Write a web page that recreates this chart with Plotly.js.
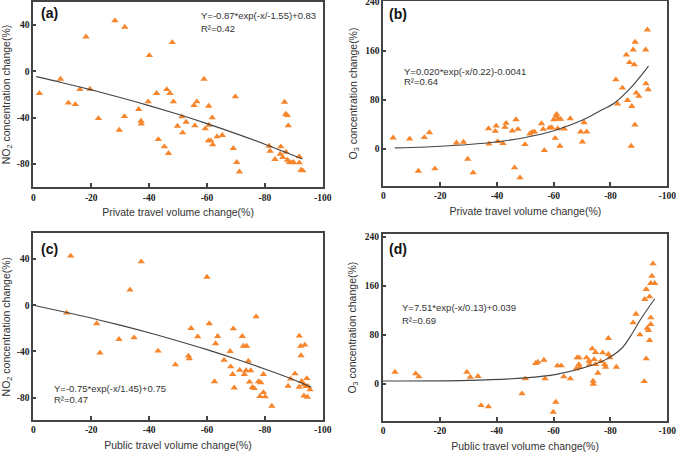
<!DOCTYPE html>
<html>
<head>
<meta charset="utf-8">
<script src="https://cdn.plot.ly/plotly-3.0.1.min.js"></script>
<style>
html,body{margin:0;padding:0;background:#fff;}
#chart{width:676px;height:452px;}
</style>
</head>
<body>
<div id="chart"></div>
<script>
// ---------- Panel (a): private travel vs NO2 ----------
const aX = [-2.1,-9.4,-12.1,-14.5,-16.1,-18.2,-19.6,-22.5,-28.2,-29.7,-31.6,-31.5,-36.4,-37.2,-37.3,-39.7,-40.1,-42.6,-43.2,-45.3,-46.1,-46.7,-47.2,-48.0,-48.4,-49.8,-51.3,-51.6,-52.8,-55.5,-55.8,-56.5,-59.0,-59.4,-60.6,-60.7,-60.5,-61.3,-61.8,-62.0,-63.5,-65.3,-69.1,-69.8,-70.3,-71.2,-81.5,-81.8,-83.5,-85.3,-85.5,-86.2,-86.8,-87.2,-87.8,-88.1,-87.3,-87.8,-88.5,-89.3,-89.9,-91.9,-91.9,-92.5,-93.1];
const aY = [-19.0,-6.7,-27.1,-28.5,-15.6,29.8,-15.3,-40.6,43.6,-50.6,38.2,-38.9,-32.8,-42.9,-45.2,-26.2,13.7,-19.0,-58.7,-65.0,-15.6,-70.7,-19.0,24.9,-26.2,-47.2,-39.1,-52.9,-43.7,-29.4,-46.9,-26.2,-6.7,-49.5,-29.9,-46.3,-59.8,-59.8,-40.0,-63.3,-56.4,-55.2,-66.4,-21.9,-78.5,-86.6,-64.4,-68.7,-75.9,-71.3,-65.0,-74.2,-26.5,-36.8,-38.0,-46.9,-69.6,-76.5,-78.5,-78.8,-78.5,-73.6,-78.8,-85.1,-85.7];
const aFitX = [-1,-10,-20,-30,-40,-50,-60,-70,-80,-93];
const aFitY = [-4.6,-9.8,-16.0,-22.6,-29.6,-37.1,-45.1,-53.7,-62.8,-75.5];

// ---------- Panel (b): private travel vs O3 ----------
const bX = [-3.4,-9.2,-12.3,-14.4,-16.2,-18.1,-25.7,-28.2,-29.7,-31.6,-37.0,-37.2,-39.7,-39.4,-40.3,-42.1,-42.8,-43.2,-45.4,-46.2,-46.7,-47.4,-48.1,-49.9,-51.6,-52.3,-53.2,-55.7,-56.3,-56.7,-58.5,-59.3,-60.0,-60.5,-60.9,-61.0,-61.6,-62.2,-62.4,-61.4,-63.7,-65.8,-69.5,-70.1,-70.7,-71.6,-81.9,-82.5,-84.2,-85.6,-86.0,-86.7,-87.5,-87.3,-88.0,-88.4,-88.6,-88.7,-89.1,-90.0,-92.4,-92.5,-93.0,-93.3];
const bY = [18.4,16.8,-35.7,19.0,27.0,-31.9,10.3,11.4,-16.2,-38.4,33.5,8.6,37.8,29.2,12.4,9.2,35.7,42.2,29.7,-30.3,48.1,32.4,-46.5,7.6,24.9,27.6,28.1,41.6,32.4,-2.2,34.6,35.1,48.1,17.8,53.5,56.8,49.2,4.9,48.6,33.5,33.0,49.7,28.1,11.9,43.2,28.1,113.0,73.5,99.5,153.5,79.5,141.1,69.7,4.9,161.6,137.3,39.5,174.1,91.4,86.1,161.6,106.5,194.1,96.8];
const bFitX = [-4,-10,-20,-30,-40,-50,-60,-70,-75.6,-81.4,-87.2,-93.4];
const bFitY = [2.0,2.7,4.6,7.4,11.9,19.0,30.0,47.0,60.5,75.0,100.0,135.0];

// ---------- Panel (c): public travel vs NO2 ----------
const cX = [-11.5,-12.9,-21.9,-23.0,-29.6,-33.4,-34.8,-37.3,-43.1,-49.1,-53.6,-53.9,-54.5,-56.8,-60.0,-60.8,-62.6,-63.0,-63.7,-65.9,-68.0,-68.2,-68.9,-69.1,-69.4,-71.3,-72.2,-72.6,-72.9,-73.5,-73.7,-74.3,-74.7,-75.1,-75.7,-76.3,-77.0,-77.8,-78.3,-78.6,-79.5,-79.5,-80.1,-82.4,-88.0,-88.9,-90.4,-91.9,-92.4,-92.5,-93.8,-92.7,-93.5,-94.5,-94.2,-94.9,-93.5,-94.7,-95.6,-91.9];
const cY = [-6.7,42.6,-15.9,-41.3,-29.5,13.2,-28.1,37.7,-39.6,-51.4,-43.9,-46.2,-20.0,-27.2,24.4,-15.9,-66.1,-33.2,-26.9,-47.4,-39.9,-53.2,-59.8,-20.3,-71.5,-56.2,-26.9,-35.3,-59.8,-56.5,-35.3,-48.3,-66.4,-56.5,-71.0,-71.9,-9.9,-66.1,-78.8,-67.0,-59.8,-75.5,-79.1,-87.2,-69.9,-63.8,-59.2,-26.6,-35.3,-43.6,-34.4,-65.8,-68.4,-63.3,-70.2,-70.2,-78.4,-79.5,-73.1,-70.8];
const cFitX = [0,-10,-20,-30,-40,-50,-60,-70,-80,-90,-96];
const cFitY = [0,-5.4,-11.1,-17.2,-23.8,-30.9,-38.4,-46.5,-55.2,-64.5,-71.0];

// ---------- Panel (d): public travel vs O3 ----------
const dX = [-4.2,-11.5,-12.6,-29.5,-30.7,-33.4,-34.5,-37.1,-48.9,-50.1,-53.7,-54.5,-56.6,-57.0,-59.9,-60.8,-61.4,-62.7,-63.6,-65.9,-68.0,-68.3,-69.0,-68.9,-69.2,-71.6,-72.5,-72.7,-73.6,-73.9,-74.0,-74.3,-74.8,-74.8,-75.6,-76.6,-77.3,-78.0,-78.3,-79.3,-79.3,-79.8,-82.1,-88.0,-89.0,-90.4,-92.1,-92.6,-92.6,-91.9,-93.0,-93.4,-93.8,-93.8,-94.2,-94.2,-94.6,-94.2,-95.6,-95.0];
const dY = [19.1,16.4,11.5,19.1,10.9,12.0,-35.5,-37.6,-16.4,8.2,33.3,35.5,38.7,8.2,-46.4,-30.0,29.5,29.5,11.5,8.2,24.5,42.5,42.5,31.6,26.7,42.5,37.1,31.6,57.3,4.4,-0.5,39.8,51.3,31.6,17.5,36.5,50.7,31.6,27.3,48.0,74.2,42.5,27.3,99.8,114.0,80.2,138.0,154.4,40.9,3.8,91.1,87.3,70.9,142.4,108.0,97.1,176.2,164.2,164.2,196.4];
const dFitX = [0,-30,-50,-61,-72.7,-78.5,-84,-88,-90.6,-95.6];
const dFitY = [4.4,5.5,9.5,15.3,28.9,39.8,58.0,84.5,105.0,139.0];

// ---------- Texts / ticks ----------
const xTickVals = [0,-20,-40,-60,-80,-100];
const xTickText = ["0","-20","-40","-60","-80","-100"];
const no2TickVals = [40,0,-40,-80];
const no2TickText = ["40","0","-40","-80"];
const o3TickVals = [240,160,80,0];
const o3TickText = ["240","160","80","0"];
const privTitle = "Private travel volume change(%)";
const pubTitle = "Public travel volume change(%)";
const no2Title = "NO<sub>2</sub> concentration change(%)";
const o3Title = "O<sub>3</sub> concentration change(%)";

const orange = "#F7852B";
const frameColor = "#444";
const mk = {symbol: "triangle-up", size: 6.5, color: orange};
const ln = {color: "#444444", width: 1.1, shape: "spline"};

function sc(x, y, xa, ya) { return {x: x, y: y, xaxis: xa, yaxis: ya, type: "scatter", mode: "markers", marker: mk, hoverinfo: "skip", showlegend: false}; }
function fl(x, y, xa, ya) { return {x: x, y: y, xaxis: xa, yaxis: ya, type: "scatter", mode: "lines", line: ln, hoverinfo: "skip", showlegend: false}; }

const data = [
  sc(aX, aY, "x", "y"), fl(aFitX, aFitY, "x", "y"),
  sc(bX, bY, "x2", "y2"), fl(bFitX, bFitY, "x2", "y2"),
  sc(cX, cY, "x3", "y3"), fl(cFitX, cFitY, "x3", "y3"),
  sc(dX, dY, "x4", "y4"), fl(dFitX, dFitY, "x4", "y4")
];

const tickFont = {family: "Liberation Serif", size: 9.5, color: "#222222", weight: "bold"};
const titleFont = {family: "Liberation Sans", size: 10.5, color: "#333333"};

function xAxis(domain, anchor, title) {
  return {domain: domain, anchor: anchor, range: [0, -100], tickvals: xTickVals, ticktext: xTickText,
    ticks: "inside", ticklen: 4, tickwidth: 2, tickcolor: frameColor, showline: true, mirror: true, linecolor: frameColor, linewidth: 2,
    showgrid: false, zeroline: false, tickfont: tickFont, ticklabeloverflow: "allow",
    title: {text: title, font: titleFont, standoff: 7}};
}
function yAxis(domain, anchor, range, tv, tt, title) {
  return {domain: domain, anchor: anchor, range: range, tickvals: tv, ticktext: tt,
    ticks: "inside", ticklen: 3, tickwidth: 2, tickcolor: frameColor, showline: true, mirror: true, linecolor: frameColor, linewidth: 2,
    showgrid: false, zeroline: false, tickfont: tickFont, ticklabeloverflow: "allow",
    title: {text: title, font: titleFont, standoff: 6}};
}

const lblFont = {family: "Liberation Sans", size: 14, color: "#111111", weight: "bold"};
const eqFont = {family: "Liberation Sans", size: 9.5, color: "#333333"};
function ann(xr, yr, x, y, text, font) {
  return {xref: xr, yref: yr, x: x, y: y, text: text, font: font, showarrow: false, xanchor: "left", yanchor: "middle"};
}

const layout = {
  width: 676, height: 452, margin: {l: 0, r: 0, t: 0, b: 0},
  paper_bgcolor: "#ffffff", plot_bgcolor: "#ffffff", showlegend: false,
  xaxis: xAxis([0.0493, 0.4774], "y", privTitle),
  yaxis: yAxis([0.5856, 0.9962], "x", [-100, 60], no2TickVals, no2TickText, no2Title),
  xaxis2: xAxis([0.5673, 0.987], "y2", privTitle),
  yaxis2: yAxis([0.5885, 0.9978], "x2", [-60, 241], o3TickVals, o3TickText, o3Title),
  xaxis3: xAxis([0.0493, 0.4774], "y3", pubTitle),
  yaxis3: yAxis([0.0708, 0.4838], "x3", [-99.3, 62.2], no2TickVals, no2TickText, no2Title),
  xaxis4: xAxis([0.5666, 0.987], "y4", pubTitle),
  yaxis4: yAxis([0.0686, 0.4816], "x4", [-61, 244.4], o3TickVals, o3TickText, o3Title),
  annotations: [
    ann("x", "y", -2.0, 50.3, "(a)", lblFont),
    ann("x", "y", -57.3, 47.7, "Y=-0.87*exp(-x/-1.55)+0.83", eqFont),
    ann("x", "y", -57.3, 37.0, "R²=0.42", eqFont),
    ann("x2", "y2", -1.1, 220.6, "(b)", lblFont),
    ann("x2", "y2", -6.4, 127.0, "Y=0.020*exp(-x/0.22)-0.0041", eqFont),
    ann("x2", "y2", -6.4, 109.5, "R²=0.64", eqFont),
    ann("x3", "y3", -2.0, 48.7, "(c)", lblFont),
    ann("x3", "y3", -6.4, -71.8, "Y=-0.75*exp(-x/1.45)+0.75", eqFont),
    ann("x3", "y3", -6.4, -81.8, "R²=0.47", eqFont),
    ann("x4", "y4", -1.5, 219.8, "(d)", lblFont),
    ann("x4", "y4", -5.8, 124.5, "Y=7.51*exp(-x/0.13)+0.039", eqFont),
    ann("x4", "y4", -5.8, 103.5, "R²=0.69", eqFont)
  ]
};

Plotly.newPlot("chart", data, layout, {displayModeBar: false});
</script>
</body>
</html>
